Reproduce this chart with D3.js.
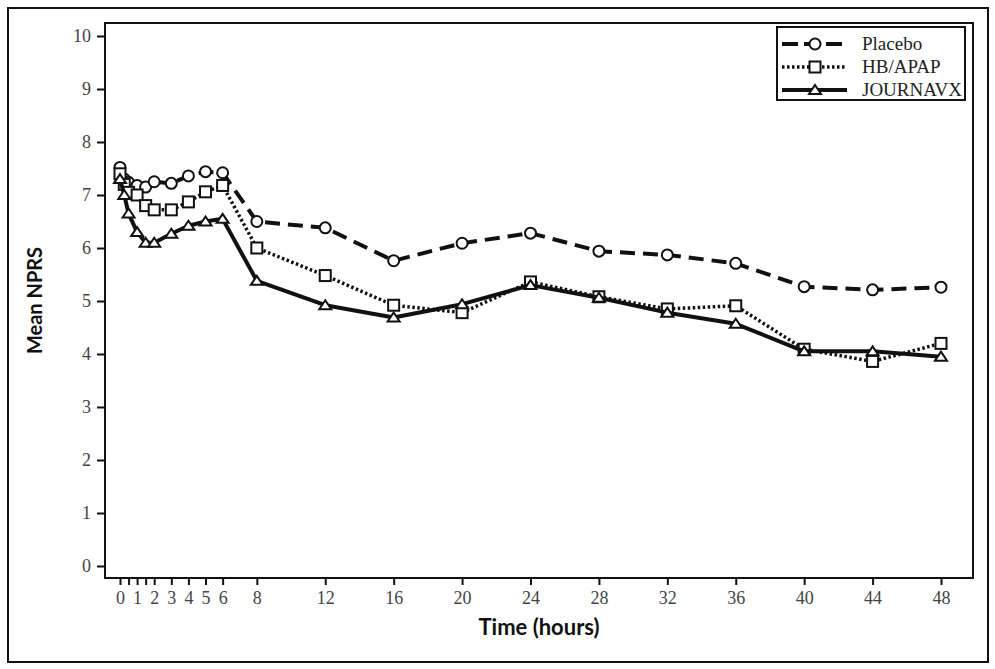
<!DOCTYPE html>
<html>
<head>
<meta charset="utf-8">
<script src="https://cdn.jsdelivr.net/npm/d3@7"></script>
<style>
  body { margin: 0; background: #fff; }
  svg { display: block; }
</style>
</head>
<body>
<svg id="chart" width="995" height="669"></svg>
<script>
// data
const hours = [0, 0.25, 0.5, 1, 1.5, 2, 3, 4, 5, 6, 8, 12, 16, 20, 24, 28, 32, 36, 40, 44, 48];
const placebo = [7.52, 7.3, 7.24, 7.18, 7.15, 7.25, 7.22, 7.36, 7.44, 7.42, 6.5, 6.38, 5.76, 6.09, 6.28, 5.94, 5.87, 5.71, 5.27, 5.21, 5.26];
const hbApap = [7.4, 7.2, 7.05, 7.0, 6.8, 6.72, 6.72, 6.87, 7.06, 7.18, 6.0, 5.48, 4.92, 4.78, 5.36, 5.08, 4.85, 4.91, 4.09, 3.86, 4.2];
const journavx = [7.3, 7.0, 6.65, 6.3, 6.1, 6.1, 6.27, 6.42, 6.5, 6.55, 5.38, 4.92, 4.69, 4.94, 5.3, 5.06, 4.78, 4.57, 4.05, 4.05, 3.95];
const seriesNames = ['Placebo', 'HB/APAP', 'JOURNAVX'];
const xTicks = [0, 0.5, 1, 1.5, 2, 3, 4, 5, 6, 8, 12, 16, 20, 24, 28, 32, 36, 40, 44, 48];
const yTicks = [0, 1, 2, 3, 4, 5, 6, 7, 8, 9, 10];

const svg = d3.select('#chart');
const ink = '#111';
const tickFont = '"Liberation Serif", "DejaVu Serif", serif';
const titleFont = 'Lato, "Open Sans", sans-serif';

// outer frame and plot box
svg.append('rect')
  .attr('x', 8).attr('y', 8).attr('width', 980).attr('height', 654)
  .style('fill', 'none').style('stroke', ink).style('stroke-width', 2);

const box = { left: 105, top: 23, right: 973, bottom: 578 };
svg.append('rect')
  .attr('x', box.left).attr('y', box.top)
  .attr('width', box.right - box.left).attr('height', box.bottom - box.top)
  .style('fill', 'none').style('stroke', ink).style('stroke-width', 2);

const x = d3.scaleLinear().domain([0, 48]).range([120, 941]);
const y = d3.scaleLinear().domain([0, 10]).range([566, 36]);

// axes
const yAxis = svg.append('g')
  .attr('transform', `translate(${box.left},0)`)
  .call(d3.axisLeft(y).tickValues(yTicks).tickSize(8).tickPadding(6));
yAxis.select('.domain').remove();

const xAxis = svg.append('g')
  .attr('transform', `translate(0,${box.bottom})`)
  .call(d3.axisBottom(x).tickValues(xTicks).tickSize(7).tickPadding(6)
    .tickFormat((d) => (Number.isInteger(d) ? d : '')));
xAxis.select('.domain').remove();

[xAxis, yAxis].forEach((g) => {
  g.selectAll('line').style('stroke', ink).style('stroke-width', 2);
  g.selectAll('text')
    .style('font-family', tickFont)
    .style('font-size', '18px')
    .style('fill', '#444');
});

// axis titles
svg.append('text')
  .attr('x', (box.left + box.right) / 2)
  .attr('y', 635)
  .attr('text-anchor', 'middle')
  .text('Time (hours)')
  .style('font-family', titleFont)
  .style('font-weight', 'bold')
  .style('font-size', '22px')
  .style('fill', ink);

svg.append('text')
  .attr('transform', `translate(42,${(box.top + box.bottom) / 2}) rotate(-90)`)
  .attr('text-anchor', 'middle')
  .text('Mean NPRS')
  .style('font-family', titleFont)
  .style('font-weight', 'bold')
  .style('font-size', '20px')
  .style('fill', ink);

// series styling
const styles = [
  { values: placebo, dash: '15,8', width: 4, marker: 'circle' },
  { values: hbApap, dash: '2.5,2.5', width: 3.5, marker: 'square' },
  { values: journavx, dash: null, width: 4, marker: 'triangle' }
];

function drawMarker(g, kind, cx, cy) {
  if (kind === 'circle') {
    g.append('circle').attr('cx', cx).attr('cy', cy).attr('r', 5.5)
      .style('fill', '#fff').style('stroke', ink).style('stroke-width', 2);
  } else if (kind === 'square') {
    g.append('rect').attr('x', cx - 5.5).attr('y', cy - 5.5).attr('width', 11).attr('height', 11)
      .style('fill', '#fff').style('stroke', ink).style('stroke-width', 2);
  } else {
    g.append('path')
      .attr('d', `M${cx - 6},${cy + 4} L${cx},${cy - 5} L${cx + 6},${cy + 4} Z`)
      .style('fill', '#fff').style('stroke', ink).style('stroke-width', 2);
  }
}

const line = d3.line().x((d) => x(d[0])).y((d) => y(d[1]));

styles.forEach((s) => {
  const pts = hours.map((h, i) => [h, s.values[i]]);
  const g = svg.append('g');
  g.append('path')
    .attr('d', line(pts))
    .style('fill', 'none')
    .style('stroke', ink)
    .style('stroke-width', s.width)
    .style('stroke-dasharray', s.dash)
    .style('stroke-linejoin', 'round');
  pts.forEach((p) => drawMarker(g, s.marker, x(p[0]), y(p[1])));
});

// legend
const leg = svg.append('g');
leg.append('rect')
  .attr('x', 777).attr('y', 27).attr('width', 188).attr('height', 73)
  .style('fill', '#fff').style('stroke', ink).style('stroke-width', 2);

styles.forEach((s, i) => {
  const ly = 44 + i * 23;
  leg.append('line')
    .attr('x1', 782).attr('x2', 847).attr('y1', ly).attr('y2', ly)
    .style('stroke', ink)
    .style('stroke-width', s.width)
    .style('stroke-dasharray', s.dash === '15,8' ? '16,6' : s.dash);
  drawMarker(leg, s.marker, 815, ly);
  leg.append('text')
    .attr('x', 862).attr('y', ly + 6)
    .text(seriesNames[i])
    .style('font-family', tickFont)
    .style('font-size', '19px')
    .style('fill', '#222');
});
</script>
</body>
</html>
